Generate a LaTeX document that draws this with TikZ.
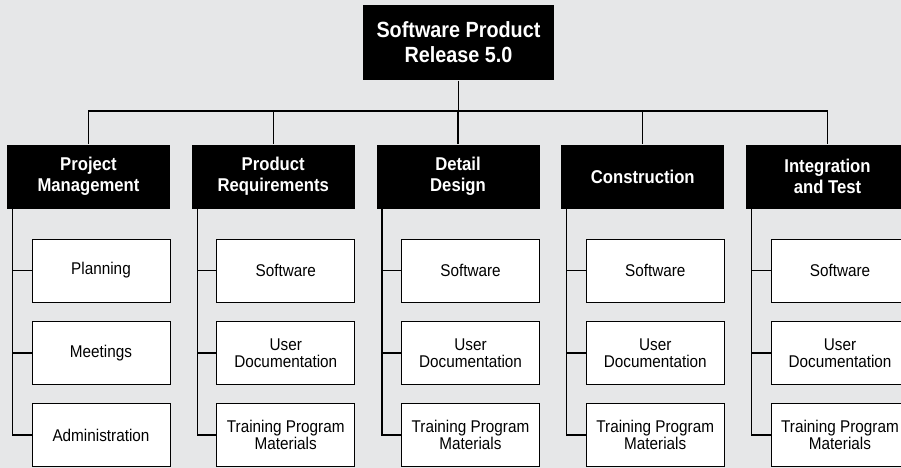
\documentclass[tikz,border=0pt]{standalone}
\usepackage{fontspec}
\setmainfont[FakeStretch=0.9]{Liberation Sans}
\definecolor{pagegrey}{RGB}{230,231,232}
\tikzset{every picture/.style={line width=0.75pt}}
\tikzset{
  headbox/.style={fill=black, text=white, inner sep=0pt, minimum width=122.25pt, minimum height=48pt, align=center, font=\fontsize{13.9}{15.75}\selectfont\bfseries},
  topbox/.style={headbox, minimum width=143.25pt, minimum height=56.25pt, font=\fontsize{16.5}{18.75}\selectfont\bfseries},
  itembox/.style={draw=black, fill=white, inner sep=0pt, minimum width=103.5pt, minimum height=47.25pt, align=center, font=\fontsize{12.75}{13}\selectfont},
  link/.style={line width=1pt}
}

\begin{document}
\begin{tikzpicture}[x=0.75pt,y=0.75pt,yscale=-1,xscale=1]
\clip (0,0) rectangle (901,468);
\fill[pagegrey] (0,0) rectangle (901,468);

%Top box
\node[topbox] (top) at (458.5,42.5) {Software Product\\Release 5.0};

%Second level boxes
\foreach \i/\txt in {1/{Project\\Management},2/{Product\\Requirements},3/{Detail\\Design},4/{Construction},5/{Integration\\and Test}}{
  \pgfmathsetmacro{\cx}{88.5+184.75*(\i-1)}
  \node[headbox] (p\i) at (\cx,176.5) {\txt};
}

%Work packages
\node[itembox] (s1-1) at (101,270.5) {Planning};
\node[itembox] (s1-2) at (101,353) {Meetings};
\node[itembox] (s1-3) at (101,435) {Administration};
\foreach \i in {2,...,5}{
  \pgfmathsetmacro{\cx}{101+184.75*(\i-1)}
  \node[itembox] (s\i-1) at (\cx,270.5) {Software};
  \node[itembox] (s\i-2) at (\cx,353) {User\\Documentation};
  \node[itembox] (s\i-3) at (\cx,435) {Training Program\\Materials};
}

%Connectors
\coordinate (bus) at (0,111);
\draw[link] (top.south) -- (top.south |- bus);
\draw[link] (p1.north) |- (p5.north |- bus) -- (p5.north);
\foreach \i in {2,3,4} \draw[link] (p\i.north) -- (p\i.north |- bus);

\foreach \i in {1,...,5}{
  \coordinate (v\i) at ([xshift=4.5pt]p\i.south west);
  \draw[link] (v\i) |- (s\i-3.west);
  \foreach \j in {1,2} \draw[link] (s\i-\j.west) -- (s\i-\j.west -| v\i);
}

\end{tikzpicture}
\end{document}
